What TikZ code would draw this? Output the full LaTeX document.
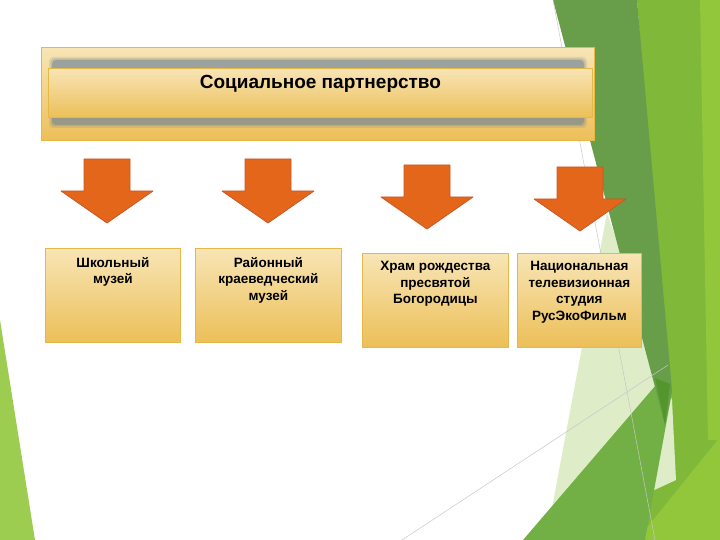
\documentclass[tikz,border=0pt]{standalone}
\usepackage{fontspec}
\setmainfont{Liberation Sans}
\usetikzlibrary{positioning}
\definecolor{facetdark}{RGB}{104,158,74}
\definecolor{facetmid}{RGB}{114,176,70}
\definecolor{facetlime}{RGB}{128,184,58}
\definecolor{facetbright}{RGB}{146,199,60}
\definecolor{facetpale}{RGB}{222,236,200}
\definecolor{facetdeep}{RGB}{84,150,44}
\definecolor{goldtop}{RGB}{248,229,182}
\definecolor{goldbot}{RGB}{236,191,88}
\definecolor{goldline}{RGB}{230,184,74}
\definecolor{arrowfill}{RGB}{227,102,26}
\definecolor{arrowline}{RGB}{198,88,40}
\definecolor{shadowblue}{RGB}{95,122,152}
\begin{document}
\begin{tikzpicture}[x=1pt,y=-1pt,line join=round,
	partbox/.style={draw=goldline,line width=0.8pt,top color=goldtop,bottom color=goldbot,inner sep=0pt,anchor=north west},
	boxtext/.style={font=\fontsize{13.5}{16.5}\selectfont\bfseries,align=center,inner sep=0pt},
	blockarrow/.style={draw=arrowline,line width=0.8pt,fill=arrowfill},
	facetline/.style={draw=black!22,line width=0.5pt}]
	\useasboundingbox (0,0) rectangle (720,540);
	% background facets
	\fill[facetbright!90!white] (0,320) -- (35,540) -- (0,540) -- cycle;
	\fill[facetlime] (637,0) -- (720,0) -- (720,540) -- (640,540) -- (670,420) -- cycle;
	\fill[facetbright] (700,0) -- (720,0) -- (720,440) -- (708,440) -- cycle;
	\fill[facetbright] (637,540) -- (720,437) -- (720,540) -- cycle;
	\fill[facetpale] (607,213) -- (672,400) -- (676,480) -- (546,540) -- cycle;
	\fill[facetmid] (523,540) -- (662,378) -- (672,392) -- (645,540) -- cycle;
	\fill[facetdark] (553,0) -- (637,0) -- (672,390) -- (665,425) -- cycle;
	\fill[facetdeep] (655,378) -- (670,384) -- (665,425) -- cycle;
	\draw[facetline] (553,0) -- (655,540);
	\draw[facetline] (402,540) -- (668,365);
	% header
	\node[partbox,minimum width=553,minimum height=93] (frame) at (41,47) {};
	\foreach \d/\o in {4/0.14,2.5/0.22,1/0.4}
		\fill[shadowblue,opacity=\o,rounded corners=4] (53-\d,61-\d) rectangle (583+\d,124+\d);
	\node[partbox,minimum width=544,minimum height=49] (partner) at (48,68) {};
	\node[boxtext,font=\fontsize{19}{22}\selectfont\bfseries,below=7pt of partner.north] (title) {Социальное партнерство};
	% arrows
	\foreach \cx/\ty in {107/159,268/159,427/165,580/167}
		\draw[blockarrow] (\cx-23,\ty) -- (\cx+23,\ty) -- (\cx+23,\ty+32) -- (\cx+46,\ty+32)
			-- (\cx,\ty+64) -- (\cx-46,\ty+32) -- (\cx-23,\ty+32) -- cycle;
	% partners
	\node[partbox,minimum width=135,minimum height=94] (school) at (45,248) {};
	\node[partbox,minimum width=146,minimum height=94] (district) at (195,248) {};
	\node[partbox,minimum width=146,minimum height=94] (church) at (362,253) {};
	\node[partbox,minimum width=124,minimum height=94] (studio) at (517,253) {};
	\node[boxtext,below=9pt of school.north] {Школьный\\музей};
	\node[boxtext,below=9pt of district.north] {Районный\\краеведческий\\музей};
	\node[boxtext,below=8.5pt of church.north] {Храм рождества\\пресвятой\\Богородицы};
	\node[boxtext,below=8.5pt of studio.north] {Национальная\\телевизионная\\студия\\РусЭкоФильм};
\end{tikzpicture}
\end{document}
